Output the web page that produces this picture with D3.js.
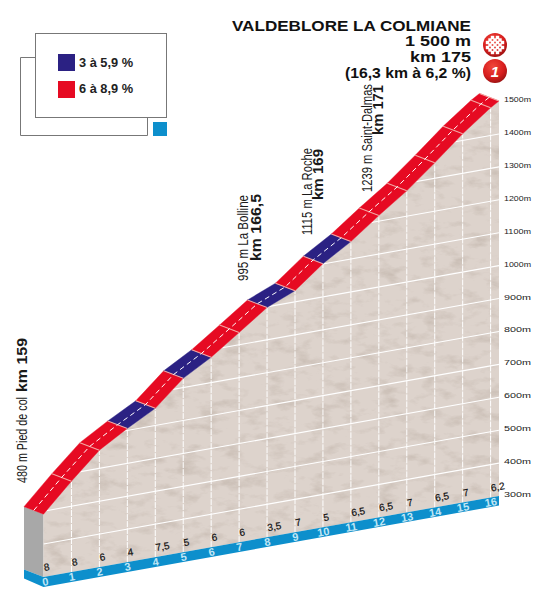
<!DOCTYPE html>
<html>
<head>
<meta charset="utf-8">
<script src="https://cdn.jsdelivr.net/npm/d3@7"></script>
<style>
  html, body { margin: 0; padding: 0; background: #fff; }
  svg { display: block; }
  text { font-family: "Liberation Sans", sans-serif; }
</style>
</head>
<body>
<svg id="chart" width="542" height="592"></svg>
<script>
// === Data ===
const kms = [0, 1, 2, 3, 4, 5, 6, 7, 8, 9, 10, 11, 12, 13, 14, 15, 16, 16.3];
const elevations = [491, 576, 655, 706, 752, 828, 877, 937, 998, 1034, 1101, 1153, 1217, 1277, 1347, 1420, 1484, 1500];
const gradients = [8, 8, 6, 4, 7.5, 5, 6, 6, 3.5, 7, 5, 6.5, 6.5, 7, 6.5, 7, 6.2];
const kmTicks = d3.range(0, 17);
const altTicks = [300, 400, 500, 600, 700, 800, 900, 1000, 1100, 1200, 1300, 1400, 1500];
const legendLabels = ['3 à 5,9 %', '6 à 8,9 %'];
const legendColors = ['#2b2183', '#e60a22'];
const titleLines = ['VALDEBLORE LA COLMIANE', '1 500 m', 'km 175', '(16,3 km à 6,2 %)'];
const passes = [
  { km: 159,   name: '480 m  Pied de col', kmLabel: 'km 159' },
  { km: 166.5, name: '995 m  La Bolline', kmLabel: 'km 166,5' },
  { km: 169,   name: '1115 m  La Roche', kmLabel: 'km 169' },
  { km: 171,   name: '1239 m  Saint-Dalmas', kmLabel: 'km 171' }
];

const svg = d3.select('#chart');
const defs = svg.append('defs');

// scales: oblique projection, x along the road and y shears with the km
const x = d3.scaleLinear().domain([0, 16.3]).range([43.5, 499]);
const baseY = d3.scaleLinear().domain([0, 16.3]).range([577, 496]);
const altH = d3.scaleLinear().domain([300, 1500]).range([0, 395]);
const px = (k, h) => [x(k), baseY(k) - altH(h)];
const depth = [-19.5, -7.5];
const slopeColor = d3.scaleThreshold().domain([6]).range(legendColors);

const profile = kms.map((k, i) => px(k, elevations[i]));
const wallPoints = [...profile, [x(16.3), baseY(16.3)], [x(0), baseY(0)]];

// mottled relief on the wall
const filter = defs.append('filter').attr('id', 'relief')
  .attr('color-interpolation-filters', 'sRGB')
  .attr('x', 0).attr('y', 0).attr('width', 1).attr('height', 1);
filter.append('feTurbulence').attr('type', 'fractalNoise')
  .attr('baseFrequency', '0.045 0.09').attr('numOctaves', 4).attr('seed', 7).attr('result', 'n');
filter.append('feColorMatrix').attr('in', 'n').attr('type', 'matrix')
  .attr('values', '0 0 0 0 0.74  0 0 0 0 0.69  0 0 0 0 0.65  1.6 0 0 0 -0.8').attr('result', 'm');
filter.append('feComposite').attr('in', 'm').attr('in2', 'SourceGraphic').attr('operator', 'in').attr('result', 'c');
const fm = filter.append('feMerge');
fm.append('feMergeNode').attr('in', 'SourceGraphic');
fm.append('feMergeNode').attr('in', 'c');

defs.append('clipPath').attr('id', 'wall').append('polygon').attr('points', wallPoints.join(' '));

const scene = svg.append('g');

// left end of the block
scene.append('polygon')
  .attr('points', [px(0, 491), [x(0) + depth[0], px(0, 491)[1] + depth[1]], [x(0) + depth[0], baseY(0) + depth[1]], [x(0), baseY(0)]].join(' '))
  .attr('fill', '#a8a8a8');

scene.append('polygon').attr('points', wallPoints.join(' ')).attr('fill', '#ddd3cc').attr('filter', 'url(#relief)');

// distance band
scene.append('polygon')
  .attr('points', [[x(0) + depth[0], baseY(0) + depth[1]], [x(0), baseY(0)], [x(16.3), baseY(16.3)], [x(16.3), baseY(16.3) + 9.5], [x(0), baseY(0) + 10], [x(0) + depth[0], baseY(0) + depth[1] + 9]].join(' '))
  .attr('fill', '#0d8fcc');

// grid
const grid = scene.append('g').attr('clip-path', 'url(#wall)');
grid.selectAll('line.alt').data(altTicks.slice(1)).enter().append('line')
  .attr('x1', x(0)).attr('x2', x(16.3))
  .attr('y1', d => px(0, d)[1]).attr('y2', d => px(16.3, d)[1])
  .attr('stroke', '#fff').attr('stroke-width', 1.1);
grid.selectAll('line.km').data(kmTicks.slice(1)).enter().append('line')
  .attr('x1', d => x(d)).attr('x2', d => x(d))
  .attr('y1', d => baseY(d)).attr('y2', d => px(d, elevations[d])[1])
  .attr('stroke', '#fff').attr('stroke-width', 1).attr('stroke-dasharray', '6 1');

// road, one piece per km coloured by its gradient
const road = scene.append('g');
gradients.forEach((g, i) => {
  const a = profile[i], b = profile[i + 1];
  road.append('polygon')
    .attr('points', [a, b, [b[0] + depth[0], b[1] + depth[1]], [a[0] + depth[0], a[1] + depth[1]]].join(' '))
    .attr('fill', slopeColor(g)).attr('stroke', slopeColor(g)).attr('stroke-width', 0.4);
});
profile.slice(1).forEach(p => {
  road.append('line')
    .attr('x1', p[0]).attr('y1', p[1]).attr('x2', p[0] + depth[0]).attr('y2', p[1] + depth[1])
    .attr('stroke', '#f2a6a2').attr('stroke-width', 1.1);
});
road.append('path')
  .attr('d', d3.line()(profile.map(p => [p[0] + depth[0] / 2, p[1] + depth[1] / 2])))
  .attr('fill', 'none').attr('stroke', '#fff').attr('stroke-width', 1).attr('stroke-dasharray', '5 3.5');

// altitude labels
svg.append('g').selectAll('text').data(altTicks).enter().append('text')
  .attr('x', 504).attr('y', d => 497 - altH(d))
  .attr('textLength', 27).attr('lengthAdjust', 'spacingAndGlyphs')
  .attr('font-size', 7.5).attr('fill', '#222')
  .text(d => d + 'm');

// km labels on the band and gradients just above it
const skew = k => `rotate(-10 ${x(k)} ${baseY(k)})`;
svg.append('g').selectAll('text').data(kmTicks).enter().append('text')
  .attr('transform', d => `translate(${d === 0 ? 2.5 : 1},8.5) ${skew(d)}`)
  .attr('x', d => x(d)).attr('y', d => baseY(d))
  .attr('text-anchor', 'middle').attr('font-size', 11).attr('font-weight', 'bold').attr('fill', '#c0e6f5')
  .text(d => d);
svg.append('g').selectAll('text').data(gradients).enter().append('text')
  .attr('transform', (d, i) => `translate(1,-6) ${skew(i)}`)
  .attr('x', (d, i) => x(i)).attr('y', (d, i) => baseY(i))
  .attr('font-size', 10).attr('fill', '#111').attr('stroke', '#111').attr('stroke-width', 0.2)
  .text(d => String(d).replace('.', ','));

// legend
const legend = svg.append('g');
legend.append('path').attr('d', 'M35.5 57.5H20.5V135.5H147.5V117.5').attr('fill', 'none').attr('stroke', '#777');
legend.append('rect').attr('x', 35.5).attr('y', 33.5).attr('width', 131).attr('height', 84)
  .attr('fill', '#fff').attr('stroke', '#777');
legend.append('rect').attr('x', 153).attr('y', 122).attr('width', 14).attr('height', 14).attr('fill', '#0d8fcc');
legendLabels.forEach((t, i) => {
  legend.append('rect').attr('x', 58).attr('y', 54 + i * 27).attr('width', 17).attr('height', 17).attr('fill', legendColors[i]);
  legend.append('text').attr('x', 79).attr('y', 67 + i * 26)
    .attr('textLength', 54).attr('lengthAdjust', 'spacingAndGlyphs')
    .attr('font-size', 12).attr('font-weight', 'bold').attr('fill', '#222').text(t);
});

// title block
const titleY = [30.5, 46, 62, 78], titleW = [239, 66, 61, 126], titleS = [15.5, 14.5, 15, 15];
titleLines.forEach((t, i) => {
  svg.append('text').attr('x', 471 - titleW[i]).attr('y', titleY[i])
    .attr('textLength', titleW[i]).attr('lengthAdjust', 'spacingAndGlyphs')
    .attr('font-size', titleS[i]).attr('font-weight', 'bold').attr('fill', '#111').text(t);
});

// col badges
const badge = defs.append('radialGradient').attr('id', 'badge').attr('cx', 0.42).attr('cy', 0.32).attr('r', 0.75);
badge.append('stop').attr('offset', 0).attr('stop-color', '#f0483c');
badge.append('stop').attr('offset', 0.6).attr('stop-color', '#d81e1e');
badge.append('stop').attr('offset', 1).attr('stop-color', '#8e1010');
[45, 71].forEach(cy => svg.append('circle').attr('cx', 495).attr('cy', cy).attr('r', 12).attr('fill', 'url(#badge)'));
const checks = svg.append('g').attr('fill', '#fff');
d3.range(-3, 4).forEach(i => d3.range(-3, 4).forEach(j => {
  if ((i + j) % 2 === 0 && Math.hypot(i, j) < 3.8) {
    checks.append('rect').attr('x', 495 + i * 2.5 - 1.7).attr('y', 45 + j * 2.5 - 1.7).attr('width', 3.4).attr('height', 3.4);
  }
}));
svg.append('text').attr('x', 495).attr('y', 76.5).attr('text-anchor', 'middle')
  .attr('font-size', 15).attr('font-weight', 'bold').attr('font-style', 'italic').attr('fill', '#fff').text('1');

// vertical place names
const vertical = (t, px_, bottom, len, bold) => {
  svg.append('text').attr('transform', `translate(${px_},${bottom}) rotate(-90)`)
    .attr('textLength', len).attr('lengthAdjust', 'spacingAndGlyphs')
    .attr('font-size', bold ? 15 : 14).attr('font-weight', bold ? 'bold' : 'normal')
    .attr('fill', '#1a1a1a').text(t);
};
const placeX = [[27, 27], [248, 260.5], [312, 323], [372, 383]];
const placeBottom = [[483, 392], [281, 261], [235, 200], [192, 135]];
const placeLen = [[86, 54], [86, 67], [87, 51], [108, 50]];
passes.forEach((p, i) => {
  vertical(p.name, placeX[i][0], placeBottom[i][0], placeLen[i][0], false);
  vertical(p.kmLabel, placeX[i][1], placeBottom[i][1], placeLen[i][1], true);
});
</script>
</body>
</html>
